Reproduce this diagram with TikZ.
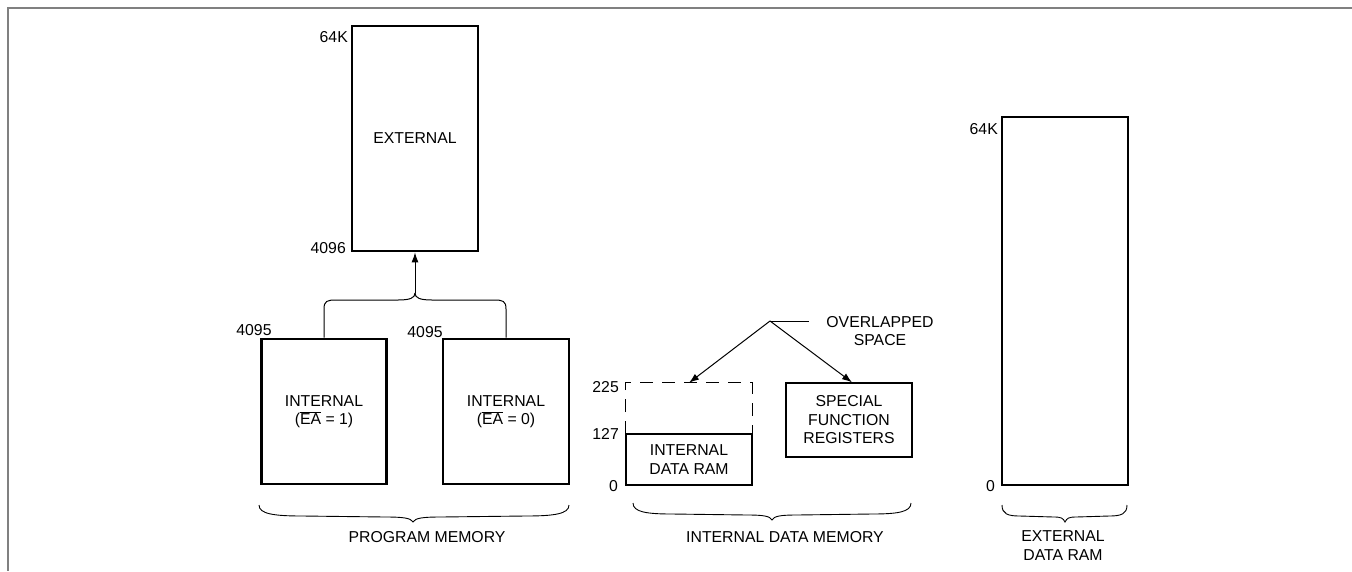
\documentclass[tikz,border=0pt]{standalone}
\usepackage{fontspec}
\setmainfont{Liberation Sans}
\usetikzlibrary{arrows.meta}
\tikzset{
  every node/.style={font=\fontsize{15.8}{18.5}\selectfont, align=center, inner sep=0pt},
  bigbox/.style={draw, line width=2.8pt, rectangle, inner sep=0pt},
  smallbox/.style={draw, line width=1.3pt, rectangle, inner sep=0pt},
  conn/.style={line width=1pt},
  brace/.style={line width=0.9pt},
  frame/.style={draw=black!50, line width=1.6pt},
  tip/.style={-{Latex[length=10pt,width=7pt]}}
}
% #1 left x, #2 right x, #3 cusp x, #4 top y
\newcommand\membrace[4]{%
  \pgfmathsetmacro\bE{0.14*(#2-#1)}%
  \pgfmathsetmacro\bC{0.09*(#2-#1)}%
  \draw[brace] (#1,#4) .. controls (#1,#4+9) and (#1+0.35*\bE,#4+11) .. (#1+\bE,#4+11)
    -- (#3-\bC,#4+12) .. controls (#3-0.35*\bC,#4+12) and (#3-2,#4+13) .. (#3,#4+17)
    .. controls (#3+2,#4+13) and (#3+0.35*\bC,#4+12) .. (#3+\bC,#4+12)
    -- (#2-\bE,#4+11) .. controls (#2-0.35*\bE,#4+11) and (#2,#4+9) .. (#2,#4);}
\begin{document}
\begin{tikzpicture}[x=1pt,y=-1pt]
\useasboundingbox (0,0) rectangle (1352,571);
% frame
\draw[frame] (1352,8) -- (8,8) -- (8,571);

% program memory
\node[bigbox, minimum width=126pt, minimum height=225pt] (ext) at (415,138.5) {EXTERNAL};
\node[anchor=east] (l64k) at (348,37) {64K};
\node[anchor=east] (l4096) at (346,248) {4096};
\node[bigbox, minimum width=125pt, minimum height=145pt] (int1) at (324,411.5) {INTERNAL\\($\overline{\mbox{EA}}$ = 1)};
\node[bigbox, minimum width=126pt, minimum height=145pt] (int2) at (506,411.5) {INTERNAL\\($\overline{\mbox{EA}}$ = 0)};
\node (l4095a) at (254,330) {4095};
\node (l4095b) at (425,332) {4095};
\coordinate (cusp) at (415,293);
\draw[conn] (int1.north) -- (324,309) .. controls (324,301) and (327,300) .. (336,300)
  -- (398,300) .. controls (410,300) and (415,298) .. (cusp);
\draw[conn] (int2.north) -- (506,309) .. controls (506,301) and (503,300) .. (494,300)
  -- (432,300) .. controls (420,300) and (415,298) .. (cusp);
\draw[conn, tip] (cusp) -- (ext.south);
\membrace{259}{569}{413}{505}
\node (pm) at (427,537) {PROGRAM MEMORY};

% internal data memory
\node[smallbox, minimum width=126pt, minimum height=51pt] (iram) at (689,459.5) {INTERNAL\\DATA RAM};
\node[minimum width=126pt, minimum height=51pt] (ovl) at (689,408.5) {};
\draw[line width=1.3pt, dash pattern=on 13pt off 9pt] (ovl.south west) -- (ovl.north west) -- (ovl.north east) -- (ovl.south east);
\node[smallbox, minimum width=126pt, minimum height=74pt] (sfr) at (849,420) {SPECIAL\\FUNCTION\\REGISTERS};
\node[anchor=east] (l225) at (619,387) {225};
\node[anchor=east] (l127) at (619,434) {127};
\node[anchor=east] (l0a) at (618,486) {0};
\node (ovtxt) at (880,331) {OVERLAPPED\\SPACE};
\coordinate (ov) at (770,321);
\coordinate (ovend) at (809,321);
\draw[conn] (ov) -- (ovend);
\draw[conn, tip] (ov) -- (ovl.north);
\draw[conn, tip] (ov) -- ([xshift=3pt]sfr.north);
\membrace{633}{911}{772}{503}
\node (idm) at (785,537) {INTERNAL DATA MEMORY};

% external data RAM
\node[bigbox, minimum width=126pt, minimum height=368pt] (xram) at (1065,301) {};
\node[anchor=east] (l64kx) at (998,129) {64K};
\node[anchor=east] (l0x) at (995,486) {0};
\membrace{1002}{1127}{1065}{505}
\node (xdr) at (1063,545.5) {EXTERNAL\\DATA RAM};
\end{tikzpicture}
\end{document}
